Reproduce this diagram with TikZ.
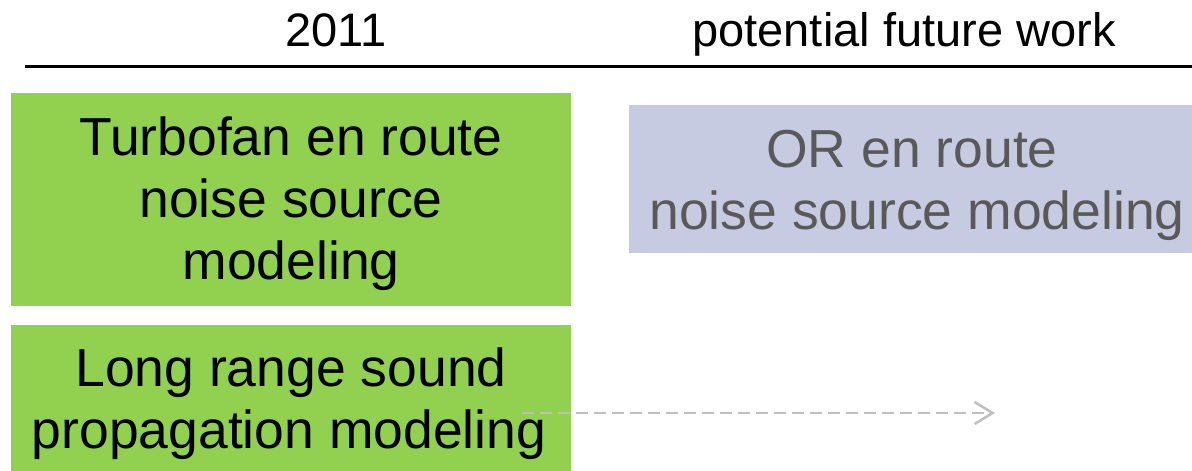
\documentclass[tikz,border=0pt]{standalone}
\usepackage{fontspec}
\setmainfont{Liberation Sans}
\usetikzlibrary{arrows.meta}
\definecolor{boxgreen}{HTML}{92D050}
\definecolor{boxblue}{HTML}{C7CBE1}
\definecolor{txtgray}{HTML}{595959}
\definecolor{arrgray}{HTML}{BFBFBF}
\begin{document}
\begin{tikzpicture}[x=1pt,y=-1pt,
  bigtext/.style={font=\fontsize{53.5}{62}\selectfont, anchor=base, inner sep=0pt},
  headtext/.style={font=\fontsize{47}{54}\selectfont, anchor=base, inner sep=0pt},
  panel/.style={draw=none, anchor=north west, inner sep=0pt, outer sep=0pt},
  futurearrow/.style={draw=arrgray, line width=2.5pt, dash pattern=on 12pt off 6pt,
    -{Straight Barb[length=18pt,width=22pt,line width=2.5pt]}}
]
\useasboundingbox (0,0) rectangle (1192,471);
% header
\node[headtext] (h1) at (336,46) {2011};
\node[headtext] (h2) at (904,46) {potential future work};
\coordinate (rl) at (25,66.3);
\coordinate (rr) at (1192,66.3);
\draw[line width=3pt] (rl) -- (rr);
% panels
\node[panel, fill=boxgreen, minimum width=560pt, minimum height=213pt] (p1) at (11,93) {};
\node[panel, fill=boxgreen, minimum width=560pt, minimum height=160pt] (p2) at (11,325) {};
\node[panel, fill=boxblue, minimum width=575pt, minimum height=148pt] (p3) at (629,105) {};
% texts
\node[bigtext] (t1a) at (291,155) {Turbofan en route};
\node[bigtext] (t1b) at (291,217) {noise source};
\node[bigtext] (t1c) at (291,279) {modeling};
\node[bigtext] (t2a) at (291,386) {Long range sound};
\node[bigtext] (t2b) at (289,448) {propagation modeling};
\node[bigtext, text=txtgray] (t3a) at (912,167) {OR en route};
\node[bigtext, text=txtgray] (t3b) at (917,229) {noise source modeling};
% arrow
\coordinate (as) at (522,413);
\coordinate (ae) at (995,413);
\draw[futurearrow] (as) -- (ae);
\end{tikzpicture}
\end{document}
